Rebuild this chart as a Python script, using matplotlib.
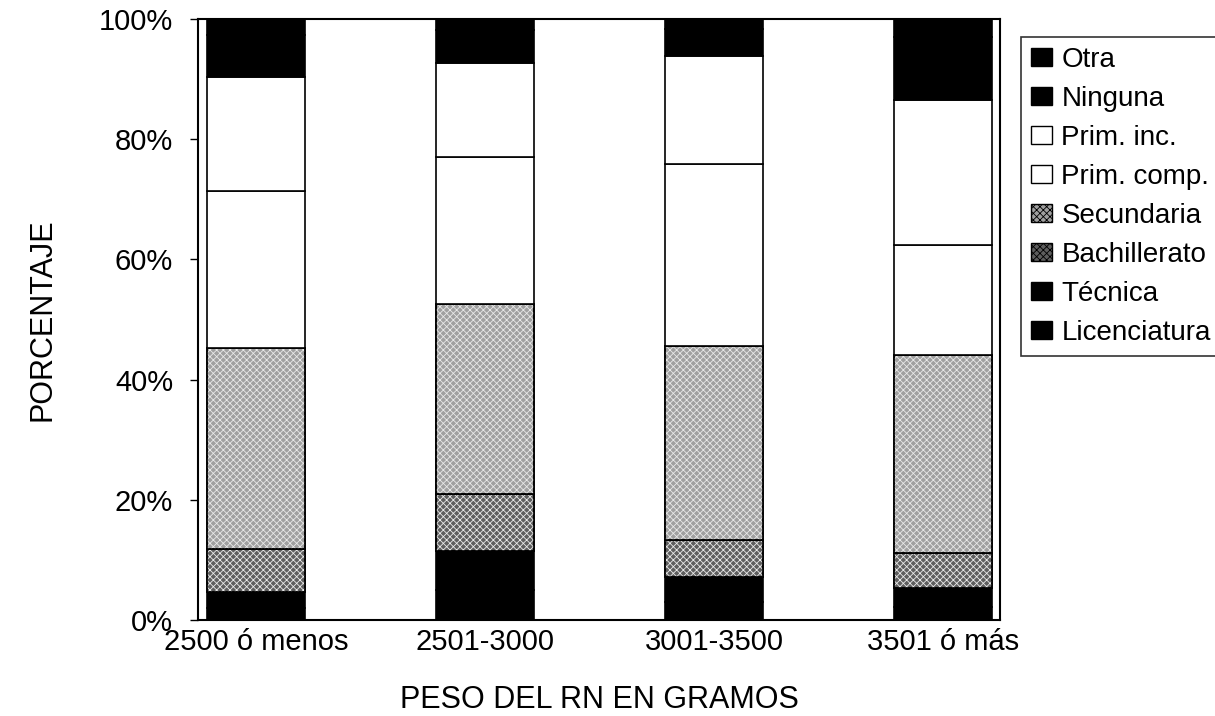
import matplotlib
matplotlib.use('Agg')
import matplotlib.pyplot as plt
from matplotlib.patches import Patch
import numpy as np

plt.rcParams['font.family'] = ['Liberation Sans', 'DejaVu Sans']

# Datos (porcentaje por categoria de peso)
categorias = ['2500 ó menos', '2501-3000', '3001-3500', '3501 ó más']
licenciatura = [2.0, 5.0, 3.0, 2.2]
tecnica = [2.7, 6.5, 4.2, 3.2]
bachillerato = [7.1, 9.4, 6.1, 5.7]
secundaria = [33.5, 31.6, 32.3, 33.0]
prim_comp = [26.1, 24.5, 30.2, 18.3]
prim_inc = [19.0, 15.7, 18.0, 24.2]
ninguna = [7.0, 5.5, 4.6, 10.4]
otra = [2.6, 1.8, 1.6, 3.0]

# Orden de apilado (de abajo hacia arriba)
series = [
    ('Licenciatura', licenciatura, 'black', None),
    ('Técnica', tecnica, 'black', None),
    ('Bachillerato', bachillerato, '#5e5e5e', 'xxxxx'),
    ('Secundaria', secundaria, '#a0a0a0', 'xxxxx'),
    ('Prim. comp.', prim_comp, 'white', None),
    ('Prim. inc.', prim_inc, 'white', None),
    ('Ninguna', ninguna, 'black', None),
    ('Otra', otra, 'black', None),
]

fig = plt.figure(figsize=(12.15, 7.16), dpi=100)
ax = fig.add_axes([198 / 1215, 1 - 620 / 716, 802 / 1215, 601 / 716])

x = np.arange(len(categorias))
ancho = 0.428
base = np.zeros(len(categorias))
handles = []
plt.rcParams['hatch.linewidth'] = 0.6
for nombre, valores, color, hatch in series:
    valores = np.array(valores)
    ax.bar(x, valores, ancho, bottom=base, color=color, edgecolor='black', linewidth=1.2)
    if hatch:
        # textura punteada encima del gris
        ax.bar(x, valores, ancho, bottom=base, color='none', edgecolor='#e8e8e8', linewidth=0, hatch=hatch)
        ax.bar(x, valores, ancho, bottom=base, color='none', edgecolor='black', linewidth=1.2)
        h = Patch(facecolor=color, edgecolor='black', hatch=hatch, linewidth=1)
    else:
        h = Patch(facecolor=color, edgecolor='black', linewidth=1)
    handles.append((h, nombre))
    base += valores

ax.set_xlim(-0.253, 3.249)
ax.set_ylim(0, 100)
ax.set_yticks(range(0, 101, 20))
ax.set_yticklabels([f'{v}%' for v in range(0, 101, 20)])
ax.set_xticks(x)
ax.set_xticklabels(categorias)
ax.tick_params(axis='y', labelsize=21, length=6, width=1, direction='out', pad=12)
ax.tick_params(axis='x', labelsize=21, length=0, pad=6)
for s in ax.spines.values():
    s.set_linewidth(1.5)

ax.set_xlabel('PESO DEL RN EN GRAMOS', fontsize=22, labelpad=21)
ax.set_ylabel('PORCENTAJE', fontsize=22, labelpad=30)

# Leyenda en orden inverso (de arriba hacia abajo)
handles = handles[::-1]
leg = fig.legend([h for h, _ in handles], [n for _, n in handles],
                 loc='upper left', bbox_to_anchor=(1021 / 1215, 1 - 37 / 716),
                 fontsize=20, frameon=True, fancybox=False, edgecolor='black',
                 handlelength=0.75, handleheight=0.6, handletextpad=0.35,
                 labelspacing=0.47, borderpad=0.35, borderaxespad=0)
leg.get_frame().set_linewidth(1.2)

fig.savefig('out.png', dpi=100)
